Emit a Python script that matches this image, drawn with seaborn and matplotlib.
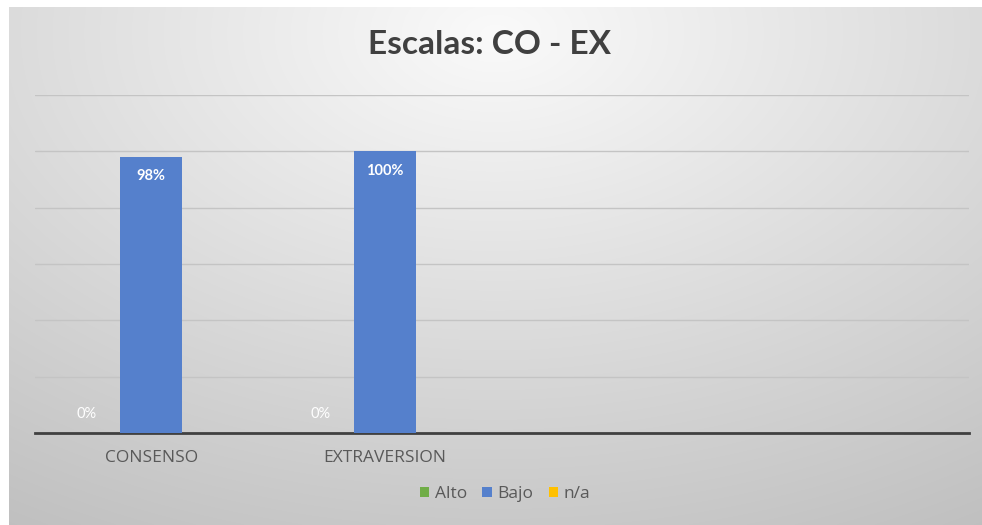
import numpy as np
import pandas as pd
import matplotlib
matplotlib.use("Agg")
import matplotlib.pyplot as plt
import seaborn as sns
from matplotlib.patches import Patch

# Chart data
categories = ["CONSENSO", "EXTRAVERSION"]
levels = ["Alto", "Bajo", "n/a"]
alto = [0, 0]
bajo = [98, 100]
na = [0, 0]
colors = {"Alto": "#70AD47", "Bajo": "#5580CC", "n/a": "#FFC000"}
title = "Escalas: CO - EX"

df = pd.DataFrame({
    "categoria": categories * 3,
    "nivel": ["Alto"] * 2 + ["Bajo"] * 2 + ["n/a"] * 2,
    "valor": alto + bajo + na,
})

sns.set_theme(style="white")
plt.rcParams["font.family"] = ["Open Sans", "DejaVu Sans"]

W, H = 982, 525
fig = plt.figure(figsize=(W / 100, H / 100), dpi=100)
fig.patch.set_facecolor("white")

# Soft grey gradient card behind the chart
bg = fig.add_axes([9 / W, 0, (W - 9) / W, (H - 7) / H], zorder=0)
yy, xx = np.mgrid[0:1:300j, 0:1:600j]
r = np.sqrt(((xx - 0.5) * 1.0) ** 2 + ((yy - 0.05) * 0.85) ** 2)
shade = np.clip(0.98 - 0.24 * r, 0, 1)
bg.imshow(np.dstack([shade] * 3), aspect="auto", extent=[0, 1, 1, 0], interpolation="bilinear")
bg.set_axis_off()

ax = fig.add_axes([34.5 / W, (H - 433) / H, 934 / W, (433 - 95) / H], zorder=1)
ax.set_facecolor("none")

sns.barplot(data=df, x="categoria", y="valor", hue="nivel", order=categories,
            hue_order=levels, palette=colors, saturation=1, width=0.8, ax=ax,
            edgecolor="none", legend=False, zorder=3)

ax.set_xlim(-0.5, 3.5)
ax.set_ylim(0, 120)
ax.set_yticks(np.arange(0, 121, 20))
ax.yaxis.grid(True, color="#c4c4c4", linewidth=1.0, zorder=0)
ax.set_axisbelow(True)
ax.set_yticklabels([])
ax.tick_params(axis="both", length=0)
ax.tick_params(axis="x", pad=12, labelsize=12.5, labelcolor="#595959")
ax.set_xlabel("")
ax.set_ylabel("")
for side in ["top", "right", "left"]:
    ax.spines[side].set_visible(False)
ax.spines["bottom"].set_color("#404040")
ax.spines["bottom"].set_linewidth(2)

# Value labels: Alto sits above the baseline, Bajo inside the bar top
cont_alto, cont_bajo = ax.containers[0], ax.containers[1]
for bar, v in zip(cont_alto, alto):
    ax.annotate(f"{v:.0f}%", (bar.get_x() + bar.get_width() / 2 - 0.01, v),
                xytext=(0, 14), textcoords="offset points", ha="center", va="center",
                color="white", fontsize=10.5, family=["Lato", "DejaVu Sans"], zorder=5)
for bar, v in zip(cont_bajo, bajo):
    ax.annotate(f"{v:.0f}%", (bar.get_x() + bar.get_width() / 2, v),
                xytext=(0, -14), textcoords="offset points", ha="center", va="center",
                color="white", fontsize=10.5, fontweight="bold",
                family=["Lato", "DejaVu Sans"], zorder=5)

fig.text(490 / W, 1 - 45 / H, title, ha="center", va="center", fontsize=24,
         fontweight="bold", color="#404040", family=["Lato", "DejaVu Sans"])

handles = [Patch(facecolor=colors[l], edgecolor="none") for l in levels]
fig.legend(handles, levels, loc="center", bbox_to_anchor=(505 / W, 1 - 494 / H), ncol=3,
           frameon=False, handlelength=0.55, handleheight=0.55, handletextpad=0.3,
           columnspacing=0.9, fontsize=12.5, labelcolor="#595959")

fig.savefig("out.png", dpi=100)
